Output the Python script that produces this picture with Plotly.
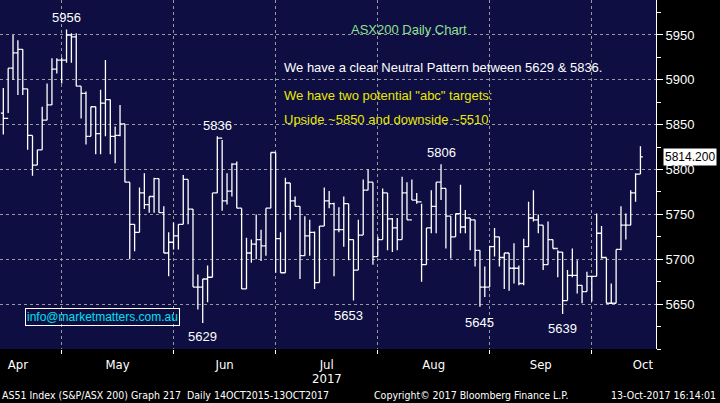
import plotly.graph_objects as go

highs = [5891,5913,5950,5944,5934,5890,5838,5822,5870,5896,5924,5924,5925,5956,5952,5952,5893,5887,5870,5870,5889,5922,5878,5848,5872,5851,
         5786,5739,5780,5796,5770,5791,5790,5759,5730,5741,5739,5794,5789,5756,5683,5678,5693,5774,5837,5833,5796,5807,5809,5757,5724,5722,
         5750,5733,5757,5819,5819,5730,5791,5785,5770,5759,5748,5744,5731,5737,5780,5776,5763,5758,5770,5762,5722,5744,5789,5800,5786,5725,
         5779,5774,5746,5746,5792,5786,5789,5774,5762,5735,5777,5786,5806,5779,5748,5751,5783,5755,5746,5744,5710,5692,5715,5735,5725,5707,
         5707,5718,5693,5723,5764,5777,5750,5738,5742,5722,5710,5708,5688,5712,5699,5671,5686,5681,5751,5737,5702,5673,5711,5759,5751,5777,5796,5826]
lows = [5839,5863,5900,5883,5883,5822,5793,5805,5822,5855,5872,5907,5896,5919,5919,5893,5857,5828,5837,5817,5817,5837,5817,5807,5837,5786,
        5700,5709,5730,5756,5752,5752,5752,5707,5681,5711,5711,5739,5739,5669,5644,5629,5652,5680,5774,5754,5761,5770,5757,5667,5667,5696,
        5700,5698,5704,5757,5685,5685,5685,5744,5759,5678,5704,5704,5667,5674,5737,5757,5681,5730,5714,5699,5654,5688,5727,5777,5694,5703,
        5722,5710,5708,5710,5722,5744,5766,5762,5675,5694,5729,5729,5766,5712,5701,5725,5729,5729,5710,5692,5647,5658,5669,5703,5692,5667,
        5665,5673,5671,5671,5714,5742,5729,5688,5694,5712,5680,5639,5654,5680,5662,5651,5664,5653,5681,5701,5651,5651,5651,5710,5722,5738,5764,5795]
closes = [5857,5913,5930,5934,5890,5838,5805,5822,5855,5872,5912,5922,5922,5950,5948,5893,5885,5837,5870,5840,5874,5878,5837,5838,5851,5786,
          5739,5730,5774,5761,5770,5790,5752,5707,5719,5726,5739,5789,5756,5669,5669,5678,5680,5774,5835,5765,5776,5806,5757,5667,5707,5717,
          5722,5715,5757,5819,5723,5685,5785,5765,5759,5704,5726,5730,5674,5737,5765,5762,5733,5733,5762,5722,5688,5727,5777,5786,5703,5722,
          5774,5745,5735,5722,5774,5744,5766,5764,5694,5735,5759,5786,5779,5748,5725,5751,5736,5746,5744,5710,5669,5669,5714,5725,5702,5707,
          5690,5690,5673,5714,5746,5744,5738,5694,5722,5712,5708,5654,5682,5682,5671,5664,5681,5681,5729,5702,5651,5651,5711,5738,5738,5774,5795,5814.2]
opens = [closes[0] + 6] + closes[:-1]
idx = list(range(len(closes)))

month_names = ["Apr", "May", "Jun", "Jul", "Aug", "Sep", "Oct"]
month_starts = [-6, 12, 35, 56, 77, 100, 121, 142]
y_ticks = [5650, 5700, 5750, 5800, 5850, 5900, 5950]
last_price = 5814.2
marked = [(13, 5956, "high"), (44, 5836, "high"), (41, 5629, "low"), (71, 5653, "low"),
          (90, 5806, "high"), (98, 5645, "low"), (115, 5639, "low")]

COND = "DejaVu Sans Condensed, Liberation Sans Narrow, Arial Narrow, sans-serif"
ARIAL = "Liberation Sans, Arial, sans-serif"

fig = go.Figure(go.Ohlc(x=idx, open=opens, high=highs, low=lows, close=closes,
                        increasing=dict(line=dict(color="white", width=1.3)),
                        decreasing=dict(line=dict(color="white", width=1.3)),
                        tickwidth=0.5, hoverinfo="skip"))

mids = [(month_starts[i] + month_starts[i + 1]) / 2 for i in range(len(month_names))]
fig.update_layout(
    width=720, height=403, margin=dict(l=0, r=64, t=0, b=54, autoexpand=False),
    paper_bgcolor="black", plot_bgcolor="#0e0e42", showlegend=False,
    font=dict(family=COND, color="white", size=13),
    xaxis=dict(range=[-0.68, 134.2], rangeslider=dict(visible=False), showgrid=False, zeroline=False,
               automargin=False, tickvals=mids, ticktext=month_names, ticks="", tickfont=dict(size=13),
               ticklabelstandoff=6,
               minor=dict(tickvals=month_starts[1:-1], showgrid=True, gridcolor="#9a9a9a", griddash="dot",
                          gridwidth=1, ticks="outside", ticklen=4, tickcolor="white")),
    yaxis=dict(side="right", range=[5600, 5989], tickvals=y_ticks, showgrid=True, gridcolor="#9a9a9a",
               automargin=False, griddash="dot", zeroline=False, showline=True, linecolor="white", linewidth=1,
               ticks="outside", ticklen=6, tickcolor="white", tickfont=dict(size=13, family=ARIAL),
               minor=dict(dtick=25, ticks="outside", ticklen=4, tickcolor="white", showgrid=False)),
)

for i, v, kind in marked:
    fig.add_annotation(x=i, y=v, text=str(v), showarrow=False, yshift=(12 if kind == "high" else -14),
                       font=dict(size=13, color="white", family=ARIAL))

fig.add_annotation(x=1, xref="paper", xanchor="left", y=last_price, text=f"{last_price:.3f}", showarrow=False,
                   bgcolor="white", font=dict(color="black", size=12, family=ARIAL), borderpad=1, xshift=7)

def note(x, y, text, color, anchor="left"):
    fig.add_annotation(x=x / 656, xref="paper", xanchor=anchor, y=1 - y / 349, yref="paper", yanchor="middle",
                       text=text, showarrow=False, font=dict(color=color, size=13, family=ARIAL))

note(409, 29, "ASX200 Daily Chart", "#8fe08f", "center")
note(282, 67, "We have a clear Neutral Pattern between 5629 & 5836.", "white")
note(282, 95, 'We have two potential "abc" targets:', "#e8e800")
note(282, 119, "Upside ~5850 and downside ~5510", "#e8e800")
fig.add_annotation(x=25 / 656, xref="paper", xanchor="left", y=1 - 317 / 349, yref="paper", yanchor="middle",
                   text="info@marketmatters.com.au", showarrow=False,
                   font=dict(color="#00e0f0", size=12, family=ARIAL),
                   bordercolor="white", borderwidth=1, borderpad=1)
fig.add_annotation(x=mids[3], y=0, yref="paper", yanchor="middle", yshift=-29, text="2017", showarrow=False,
                   font=dict(size=13, color="white"))
for x, anchor, text in [(0, "left", "AS51 Index (S&P/ASX 200) Graph 217  Daily 14OCT2015-13OCT2017"),
                        (372, "left", "Copyright© 2017 Bloomberg Finance L.P."),
                        (718, "right", "13-Oct-2017 16:14:01")]:
    fig.add_annotation(x=x / 656, xref="paper", xanchor=anchor, y=0, yref="paper", yanchor="top", yshift=-38,
                       text=text, showarrow=False, font=dict(size=10.5, color="white"))

fig.write_html("out.html", config={"displayModeBar": False},
               post_script="document.body.style.margin='0';document.body.style.background='black';")
